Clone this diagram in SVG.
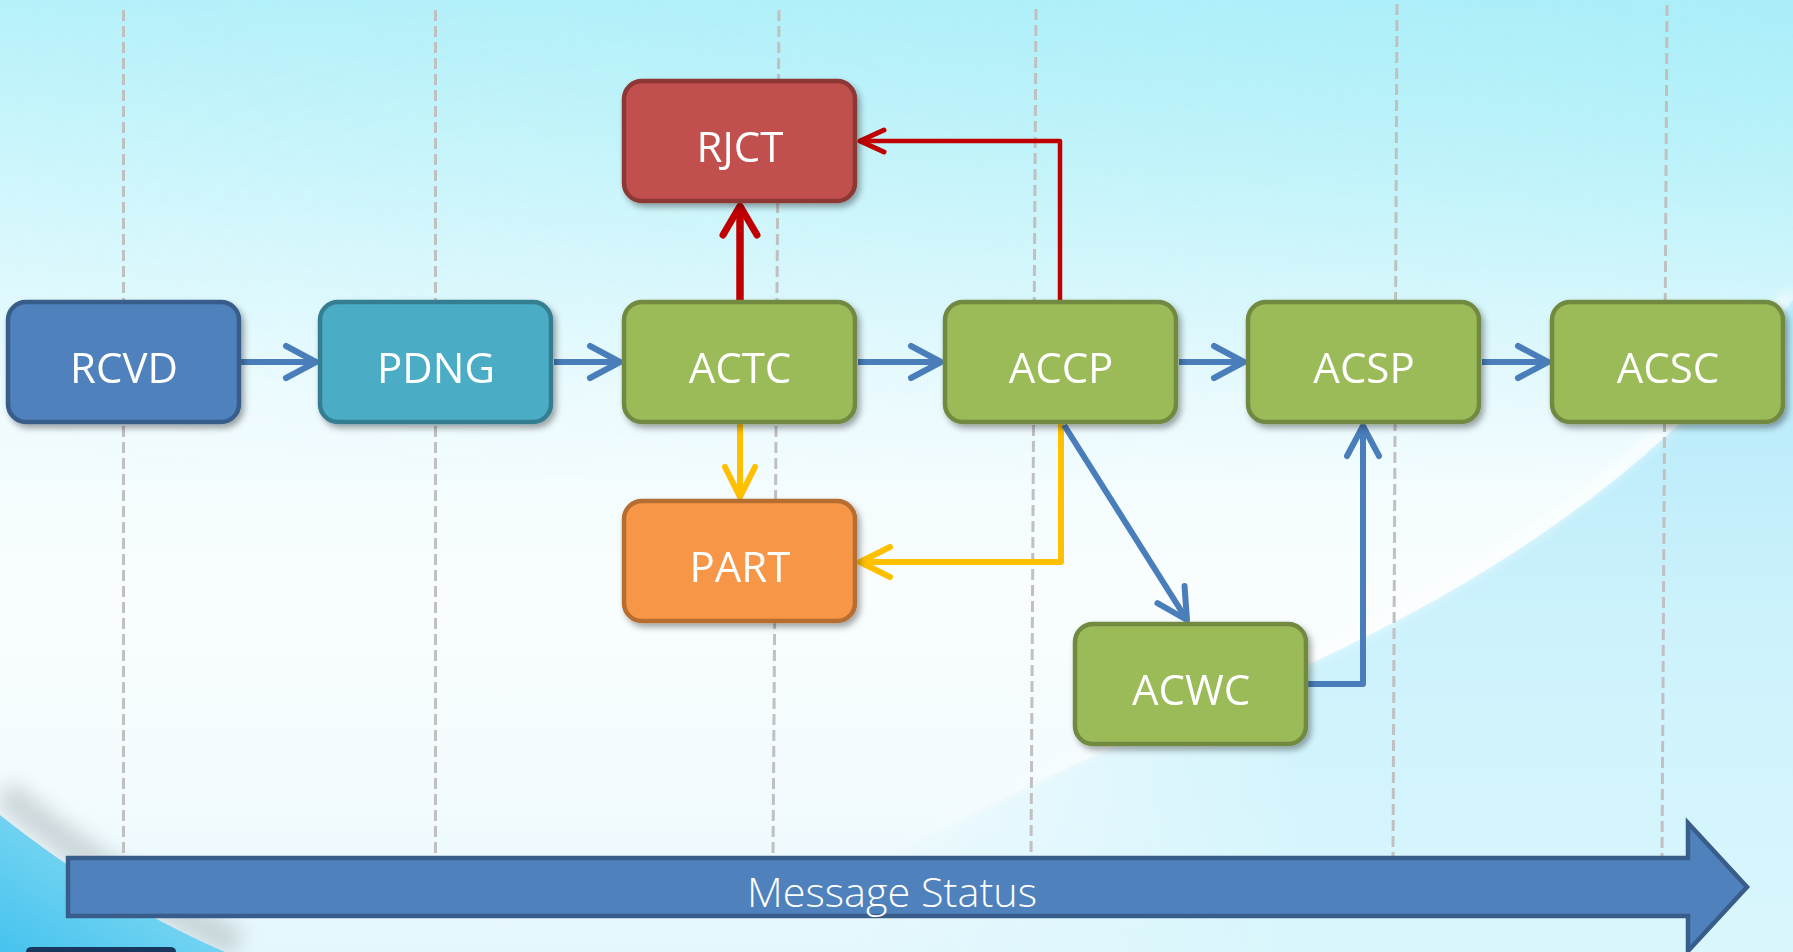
<svg xmlns="http://www.w3.org/2000/svg" width="1793" height="952" viewBox="0 0 1793 952">
<defs>
<style>
.node rect{stroke-width:4.5}
.lbl{font-family:"Open Sans","Noto Sans","Liberation Sans",sans-serif;font-size:42px;fill:#fff;text-anchor:middle}
.grid{stroke:#c0c0c0;stroke-width:3;stroke-dasharray:11 5;fill:none}
.blue{stroke:#4a7ebb;stroke-width:6;fill:none;stroke-linejoin:round}
.red1{stroke:#c00000;stroke-width:7.5;fill:none}
.red2{stroke:#c00000;stroke-width:4.5;fill:none;stroke-linejoin:round}
.yel{stroke:#ffc000;stroke-width:6;fill:none;stroke-linejoin:round}
.blueN{fill:#4f81bd;stroke:#385d8a}
.tealN{fill:#4bacc6;stroke:#357d91}
.greenN{fill:#9bbb59;stroke:#71893f}
.redN{fill:#c0504d;stroke:#8c3836}
.orangeN{fill:#f79646;stroke:#b66d31}
</style>
<linearGradient id="bg" x1="0" y1="0" x2="0" y2="1">
<stop offset="0" stop-color="#b6f1fa"/>
<stop offset="0.22" stop-color="#d3f7fc"/>
<stop offset="0.42" stop-color="#eefbfe"/>
<stop offset="0.62" stop-color="#f9fdfe"/>
<stop offset="0.85" stop-color="#f2fbfe"/>
<stop offset="1" stop-color="#e4f7fc"/>
</linearGradient>
<linearGradient id="bgR" x1="0" y1="0" x2="1" y2="0">
<stop offset="0" stop-color="#a4ecf7" stop-opacity="0"/>
<stop offset="1" stop-color="#a0ecf7" stop-opacity="0.55"/>
</linearGradient>
<linearGradient id="topFade" x1="0" y1="0" x2="0" y2="1">
<stop offset="0" stop-color="#fff" stop-opacity="1"/>
<stop offset="1" stop-color="#fff" stop-opacity="0"/>
</linearGradient>
<mask id="topMask"><rect width="1793" height="480" fill="url(#topFade)"/></mask>
<linearGradient id="leftFade" gradientUnits="userSpaceOnUse" x1="850" y1="0" x2="1300" y2="0">
<stop offset="0" stop-color="#fff" stop-opacity="0"/>
<stop offset="1" stop-color="#fff" stop-opacity="1"/>
</linearGradient>
<mask id="lrMask"><rect x="0" y="0" width="1793" height="952" fill="url(#leftFade)"/></mask>
<linearGradient id="lrBlue" x1="0" y1="0" x2="0" y2="1">
<stop offset="0" stop-color="#b2e8f9"/>
<stop offset="0.5" stop-color="#cdf2fc"/>
<stop offset="1" stop-color="#d9f6fc"/>
</linearGradient>
<linearGradient id="llBlue" x1="0" y1="1" x2="1" y2="0">
<stop offset="0" stop-color="#45c3ee"/>
<stop offset="1" stop-color="#9ee2f6"/>
</linearGradient>
<filter id="blur6" x="-20%" y="-20%" width="140%" height="140%"><feGaussianBlur stdDeviation="6"/></filter>
<filter id="blur10" x="-30%" y="-30%" width="160%" height="160%"><feGaussianBlur stdDeviation="10"/></filter>
<filter id="shadow" x="-10%" y="-10%" width="125%" height="130%">
<feDropShadow dx="3" dy="4" stdDeviation="3" flood-color="#000" flood-opacity="0.35"/>
</filter>
<marker id="mBlue" markerUnits="userSpaceOnUse" markerWidth="60" markerHeight="60" refX="45" refY="30" orient="auto" overflow="visible">
<path d="M15,14 L45,30 L15,46" fill="none" stroke="#4a7ebb" stroke-width="6" stroke-linecap="round" stroke-linejoin="round"/>
</marker>
<marker id="mRed1" markerUnits="userSpaceOnUse" markerWidth="60" markerHeight="60" refX="45" refY="30" orient="auto" overflow="visible">
<path d="M16,13 L45,30 L16,47" fill="none" stroke="#c00000" stroke-width="7" stroke-linecap="round" stroke-linejoin="round"/>
</marker>
<marker id="mRed2" markerUnits="userSpaceOnUse" markerWidth="60" markerHeight="60" refX="45" refY="30" orient="auto" overflow="visible">
<path d="M21,19 L45,30 L21,41" fill="none" stroke="#c00000" stroke-width="5" stroke-linecap="round" stroke-linejoin="round"/>
</marker>
<marker id="mYel" markerUnits="userSpaceOnUse" markerWidth="60" markerHeight="60" refX="45" refY="30" orient="auto" overflow="visible">
<path d="M15,15 L45,30 L15,45" fill="none" stroke="#ffc000" stroke-width="6" stroke-linecap="round" stroke-linejoin="round"/>
</marker>
</defs>

<g id="background">
<rect width="1793" height="952" fill="url(#bg)"/>
<rect width="1793" height="480" fill="url(#bgR)" mask="url(#topMask)"/>
<g mask="url(#lrMask)">
<path d="M700,952 C900,850 1050,770 1180,720 C1400,630 1620,520 1793,300 L1793,952 Z" fill="url(#lrBlue)"/>
<path d="M700,952 C900,850 1050,770 1180,720 C1400,630 1620,520 1793,300" fill="none" stroke="#ffffff" stroke-width="10" opacity="0.8" filter="url(#blur6)" transform="translate(-3,-6)"/>
</g>
<path d="M0,800 C70,860 140,905 235,952" fill="none" stroke="#aeb7bb" stroke-width="30" opacity="0.55" filter="url(#blur10)" transform="translate(3,-8)"/>
<path d="M0,815 C70,870 140,915 225,952 L0,952 Z" fill="url(#llBlue)"/>
<path d="M26,952 L26,956 L176,956 L176,952 Q176,947 170,947 L32,947 Q26,947 26,952 Z" fill="#17375e"/>
</g>

<g id="gridlines">
<line class="grid" x1="123.5" y1="10" x2="123.5" y2="856"/>
<line class="grid" x1="435.5" y1="10" x2="435.5" y2="856"/>
<line class="grid" x1="779" y1="10" x2="773" y2="856"/>
<line class="grid" x1="1036" y1="9" x2="1031" y2="856"/>
<line class="grid" x1="1397" y1="4" x2="1393" y2="856"/>
<line class="grid" x1="1667" y1="5" x2="1662" y2="856"/>
</g>

<g id="status-arrow">
<path d="M68,858 L1688,858 L1688,823 L1747,887 L1688,951 L1688,916 L68,916 Z" fill="#4f81bd" stroke="#385d8a" stroke-width="4.5" stroke-linejoin="miter"/>
<text x="892" y="907" font-family="'Open Sans','Noto Sans','Liberation Sans',sans-serif" font-size="41" font-weight="300" fill="#fff" text-anchor="middle" textLength="290" lengthAdjust="spacingAndGlyphs">Message Status</text>
</g>

<g id="connectors">
<line class="blue" x1="241" y1="362" x2="316" y2="362" marker-end="url(#mBlue)"/>
<line class="blue" x1="554" y1="362" x2="620" y2="362" marker-end="url(#mBlue)"/>
<line class="blue" x1="858" y1="362" x2="941" y2="362" marker-end="url(#mBlue)"/>
<line class="blue" x1="1179" y1="362" x2="1244" y2="362" marker-end="url(#mBlue)"/>
<line class="blue" x1="1482" y1="362" x2="1548" y2="362" marker-end="url(#mBlue)"/>
<line class="red1" x1="740" y1="300" x2="740" y2="206" marker-end="url(#mRed1)"/>
<polyline class="red2" points="1060,300 1060,141 860,141" marker-end="url(#mRed2)"/>
<line class="yel" x1="740" y1="424" x2="740" y2="497" marker-end="url(#mYel)"/>
<polyline class="yel" points="1061,424 1061,562 860,562" marker-end="url(#mYel)"/>
<line class="blue" x1="1064" y1="425" x2="1187" y2="620" marker-end="url(#mBlue)"/>
<polyline class="blue" points="1307,684 1363,684 1363,426" marker-end="url(#mBlue)"/>
</g>

<g id="node-RCVD" class="node" filter="url(#shadow)">
<rect class="blueN" x="8" y="302" width="231" height="120" rx="18"/>
<text class="lbl" x="124" y="383">RCVD</text>
</g>
<g id="node-PDNG" class="node" filter="url(#shadow)">
<rect class="tealN" x="320" y="302" width="231" height="120" rx="18"/>
<text class="lbl" x="436" y="383">PDNG</text>
</g>
<g id="node-ACTC" class="node" filter="url(#shadow)">
<rect class="greenN" x="624" y="302" width="231" height="120" rx="18"/>
<text class="lbl" x="740" y="383">ACTC</text>
</g>
<g id="node-ACCP" class="node" filter="url(#shadow)">
<rect class="greenN" x="945" y="302" width="231" height="120" rx="18"/>
<text class="lbl" x="1061" y="383">ACCP</text>
</g>
<g id="node-ACSP" class="node" filter="url(#shadow)">
<rect class="greenN" x="1248" y="302" width="231" height="120" rx="18"/>
<text class="lbl" x="1364" y="383">ACSP</text>
</g>
<g id="node-ACSC" class="node" filter="url(#shadow)">
<rect class="greenN" x="1552" y="302" width="231" height="120" rx="18"/>
<text class="lbl" x="1668" y="383">ACSC</text>
</g>
<g id="node-RJCT" class="node" filter="url(#shadow)">
<rect class="redN" x="624" y="81" width="231" height="120" rx="18"/>
<text class="lbl" x="740" y="162">RJCT</text>
</g>
<g id="node-PART" class="node" filter="url(#shadow)">
<rect class="orangeN" x="624" y="501" width="231" height="120" rx="18"/>
<text class="lbl" x="740" y="582">PART</text>
</g>
<g id="node-ACWC" class="node" filter="url(#shadow)">
<rect class="greenN" x="1075" y="624" width="231" height="120" rx="18"/>
<text class="lbl" x="1191" y="705">ACWC</text>
</g>
</svg>
